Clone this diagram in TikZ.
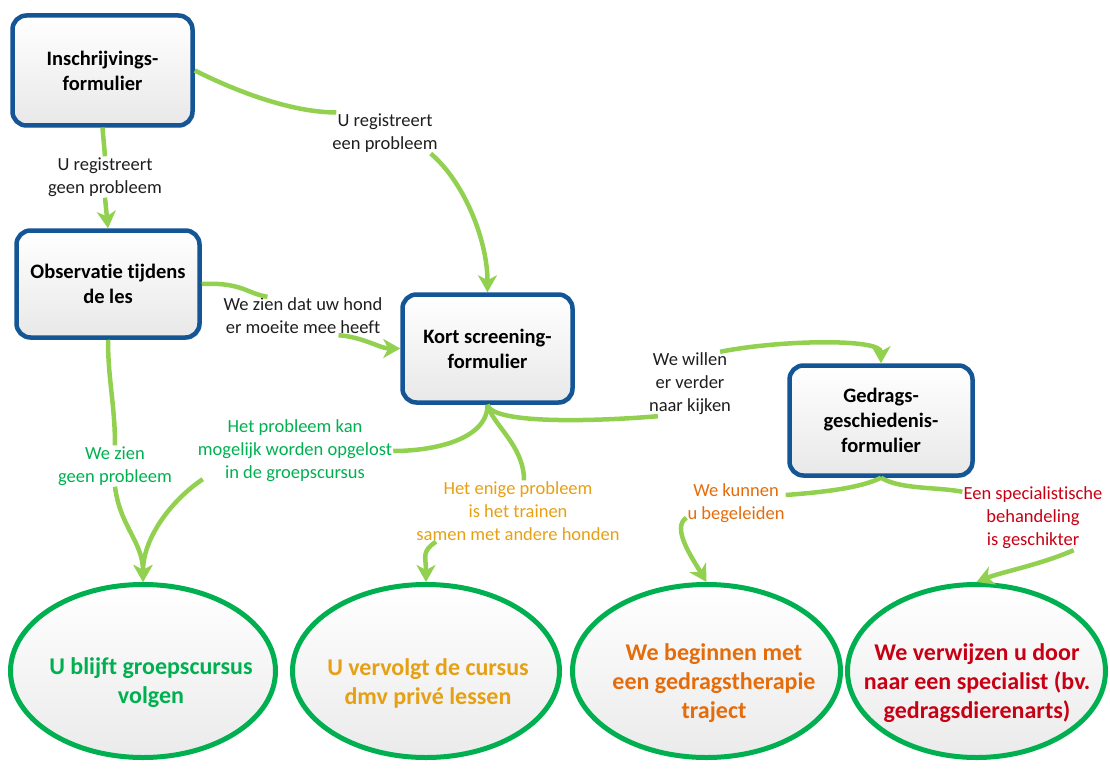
\documentclass[tikz,border=0pt]{standalone}
\usepackage{fontspec}
\setmainfont{Carlito}[Ligatures=NoCommon]
\usetikzlibrary{arrows.meta,shapes.geometric,shadows}
\definecolor{boxblue}{RGB}{20,85,150}
\definecolor{ellgreen}{RGB}{0,176,80}
\definecolor{linkgreen}{RGB}{146,208,80}
\definecolor{txtgreen}{RGB}{0,176,80}
\definecolor{txtyellow}{RGB}{230,160,20}
\definecolor{txtorange}{RGB}{228,108,10}
\definecolor{txtred}{RGB}{200,0,20}
\definecolor{txtdark}{RGB}{30,30,30}
\begin{document}
\begin{tikzpicture}[x=1pt,y=-1pt,
  formbox/.style={rectangle, rounded corners=14pt, draw=boxblue, line width=4.5pt,
    top color=white, bottom color=black!9, align=center, inner sep=0pt,
    font=\fontsize{20.5}{25}\selectfont\bfseries, text=black,
    drop shadow={shadow xshift=2pt, shadow yshift=-2pt, opacity=0.25}},
  outcome/.style={ellipse, draw=ellgreen, line width=5pt, top color=white,
    bottom color=black!8, inner sep=0pt},
  outtext/.style={align=center, inner sep=0pt, font=\fontsize{24}{29}\selectfont\bfseries},
  lbl/.style={align=center, font=\fontsize{18.5}{23}\selectfont, inner sep=1pt, text=txtdark},
  link/.style={draw=linkgreen, line width=4.5pt},
  arr/.style={link, -{Stealth[length=17pt,width=19pt,inset=5pt]}}]
\useasboundingbox (0,0) rectangle (1110,770);

% form boxes
\node[formbox, minimum width=180pt, minimum height=110pt] (b1) at (102.5,70.5) {Inschrijvings-\\formulier};
\node[formbox, minimum width=183pt, minimum height=107pt] (b2) at (108,284) {Observatie tijdens\\de les};
\node[formbox, minimum width=170pt, minimum height=108pt] (b3) at (487.5,348.5) {Kort screening-\\formulier};
\node[formbox, minimum width=183pt, minimum height=110pt] (b4) at (881,420.5) {Gedrags-\\geschiedenis-\\formulier};

% outcomes
\node[outcome, minimum width=265pt, minimum height=173pt] (e1) at (143,671) {};
\node[outcome, minimum width=267pt, minimum height=173pt] (e2) at (426,671) {};
\node[outcome, minimum width=268pt, minimum height=173pt] (e3) at (706.5,671) {};
\node[outcome, minimum width=258pt, minimum height=173pt] (e4) at (976.5,671) {};
\node[outtext, text=txtgreen] (e1t) at (151,683) {U blijft groepscursus\\volgen};
\node[outtext, text=txtyellow] (e2t) at (428,683) {U vervolgt de cursus\\dmv privé lessen};
\node[outtext, text=txtorange] (e3t) at (714,683) {We beginnen met\\een gedragstherapie\\traject};
\node[outtext, text=txtred] (e4t) at (977,683) {We verwijzen u door\\naar een specialist (bv.\\gedragsdierenarts)};

% labels
\node[lbl] (L1) at (105,177) {U registreert\\geen probleem};
\node[lbl] (L2) at (385,133) {U registreert\\een probleem};
\node[lbl] (L3) at (303,316) {We zien dat uw hond\\er moeite mee heeft};
\node[lbl, text=txtgreen] (L4) at (115,466) {We zien\\geen probleem};
\node[lbl, text=txtgreen] (L5) at (295,451) {Het probleem kan\\mogelijk worden opgelost\\in de groepscursus};
\node[lbl, text=txtyellow] (L6) at (518,511) {Het enige probleem\\is het trainen\\samen met andere honden};
\node[lbl] (L7) at (690,384) {We willen\\er verder\\naar kijken};
\node[lbl, text=txtorange] (L8) at (736,503) {We kunnen\\u begeleiden};
\node[lbl, text=txtred] (L9) at (1033,518) {Een specialistische\\behandeling\\is geschikter};

% connectors
\draw[link] (b1.south) -- (L1.north);
\draw[arr] (L1.south) -- (b2.north);

\draw[link] (b1.east) .. controls +(50,25) and +(-40,0) .. ([xshift=5pt]L2.north west);
\draw[arr] ([xshift=-8pt]L2.south east) .. controls +(35,30) and +(0,-50) .. (b3.north);

\draw[link] (b2.east) .. controls +(40,-2) and +(-20,-3) .. ([xshift=45pt]L3.north west);
\draw[arr] ([xshift=-45pt]L3.south east) .. controls +(25,2) and +(-20,0) .. (b3.west);

\draw[link] (b2.south) .. controls +(0,40) and +(0,-40) .. (L4.north);
\draw[arr] (L4.south) .. controls +(5,40) and +(0,-40) .. (e1.north);

\draw[link] (b3.south) .. controls +(0,35) and +(40,0) .. (L5.east);
\draw[arr] ([xshift=6pt,yshift=4pt]L5.south west) .. controls +(-30,20) and +(0,-45) .. (e1.north);

\draw[link] ([xshift=6pt]L6.north) .. controls +(0,-35) and +(5,20) .. (b3.south);
\draw[arr] ([xshift=-82pt]L6.south) .. controls +(-15,10) and +(0,-25) .. (e2.north);

\draw[link] (b3.south) .. controls +(5,20) and +(-60,5) .. ([xshift=10pt]L7.south west);
\draw[arr] ([xshift=-12pt]L7.north east) .. controls +(60,-12) and +(0,-25) .. (b4.north);

\draw[link] (b4.south) .. controls +(-20,10) and +(40,-3) .. ([yshift=8pt]L8.east);
\draw[arr] ([yshift=6pt]L8.south west) .. controls +(-15,10) and +(-15,-25) .. (e3.north);

\draw[link] (b4.south) .. controls +(20,12) and +(-25,-5) .. ([yshift=-6pt]L9.north west);
\draw[arr] ([xshift=-30pt]L9.south east) .. controls +(-35,15) and +(25,-10) .. (e4.north);
\end{tikzpicture}
\end{document}
